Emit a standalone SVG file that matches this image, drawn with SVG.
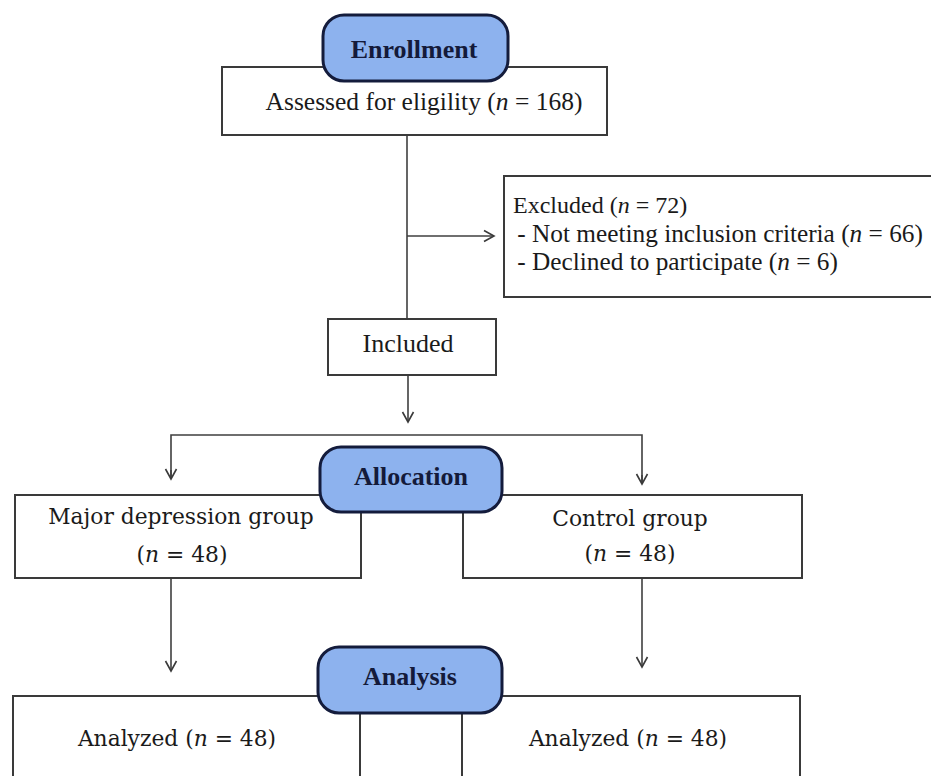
<svg xmlns="http://www.w3.org/2000/svg" width="931" height="776" viewBox="0 0 931 776">
<defs>
<marker id="arr" markerUnits="userSpaceOnUse" markerWidth="14" markerHeight="14" viewBox="-11 -7 13 14" refX="0" refY="0" orient="auto">
<path d="M-10,-5.5 L0,0 L-10,5.5" fill="none" stroke="#3a3a3a" stroke-width="1.6"/>
</marker>
</defs>
<style>
.box{fill:#fff;stroke:#3a3a3a;stroke-width:2}
.pill{fill:#8db2ee;stroke:#141c3c;stroke-width:3}
.conn{fill:none;stroke:#3f3f3f;stroke-width:1.6}
.t{font-family:"Liberation Serif","Times New Roman",serif;font-size:25.5px;fill:#1a1a1a}
.p{font-family:"DejaVu Serif","Liberation Serif",serif;font-size:21.8px;fill:#1a1a1a}
.h{font-family:"Liberation Serif","Times New Roman",serif;font-size:26px;font-weight:bold;fill:#141a3a;text-anchor:middle}
.i{font-style:italic}
</style>
<rect width="931" height="776" fill="#fff"/>
<g id="connectors">
<line class="conn" x1="407" y1="135" x2="407" y2="319"/>
<line class="conn" x1="407" y1="236" x2="494" y2="236" marker-end="url(#arr)"/>
<line class="conn" x1="408" y1="375" x2="408" y2="422" marker-end="url(#arr)"/>
<path class="conn" d="M171,479 V435 H642 V484"/>
<line class="conn" x1="171" y1="470" x2="171" y2="479" marker-end="url(#arr)"/>
<line class="conn" x1="642" y1="475" x2="642" y2="484" marker-end="url(#arr)"/>
<line class="conn" x1="171" y1="578" x2="171" y2="671" marker-end="url(#arr)"/>
<line class="conn" x1="642" y1="578" x2="642" y2="667" marker-end="url(#arr)"/>
</g>
<g id="assessed">
<rect class="box" x="222" y="67" width="385" height="68"/>
<text class="t" x="424" y="110" text-anchor="middle">Assessed for eligility (<tspan class="i">n</tspan> = 168)</text>
</g>
<g id="enrollment">
<rect class="pill" x="323" y="15" width="185" height="66" rx="21"/>
<text class="h" x="414" y="58">Enrollment</text>
</g>
<g id="excluded">
<rect class="box" x="504" y="176" width="440" height="121"/>
<text class="t" x="513" y="213" style="font-size:24px">Excluded (<tspan class="i">n</tspan> = 72)</text>
<text class="t" x="511" y="242" xml:space="preserve" style="font-size:25.3px"> - Not meeting inclusion criteria (<tspan class="i">n</tspan> = 66)</text>
<text class="t" x="511" y="270" xml:space="preserve" style="font-size:25.3px"> - Declined to participate (<tspan class="i">n</tspan> = 6)</text>
</g>
<g id="included">
<rect class="box" x="328" y="319" width="168" height="56"/>
<text class="t" x="408" y="352" text-anchor="middle" style="font-size:26px">Included</text>
</g>
<g id="major">
<rect class="box" x="15" y="495" width="346" height="83"/>
<text class="p" x="181" y="524" text-anchor="middle">Major depression group</text>
<text class="p" x="182" y="562" text-anchor="middle">(<tspan class="i">n</tspan> = 48)</text>
</g>
<g id="control">
<rect class="box" x="463" y="495" width="339" height="83"/>
<text class="p" x="630" y="526" text-anchor="middle">Control group</text>
<text class="p" x="630" y="561" text-anchor="middle">(<tspan class="i">n</tspan> = 48)</text>
</g>
<g id="allocation">
<rect class="pill" x="320" y="447" width="182" height="65" rx="21"/>
<text class="h" x="411" y="485">Allocation</text>
</g>
<g id="analyzed-left">
<rect class="box" x="13" y="696" width="347" height="100"/>
<text class="p" x="177" y="746" text-anchor="middle">Analyzed (<tspan class="i">n</tspan> = 48)</text>
</g>
<g id="analyzed-right">
<rect class="box" x="462" y="696" width="338" height="100"/>
<text class="p" x="628" y="746" text-anchor="middle">Analyzed (<tspan class="i">n</tspan> = 48)</text>
</g>
<g id="analysis">
<rect class="pill" x="318" y="647" width="184" height="66" rx="21"/>
<text class="h" x="410" y="685">Analysis</text>
</g>
</svg>
